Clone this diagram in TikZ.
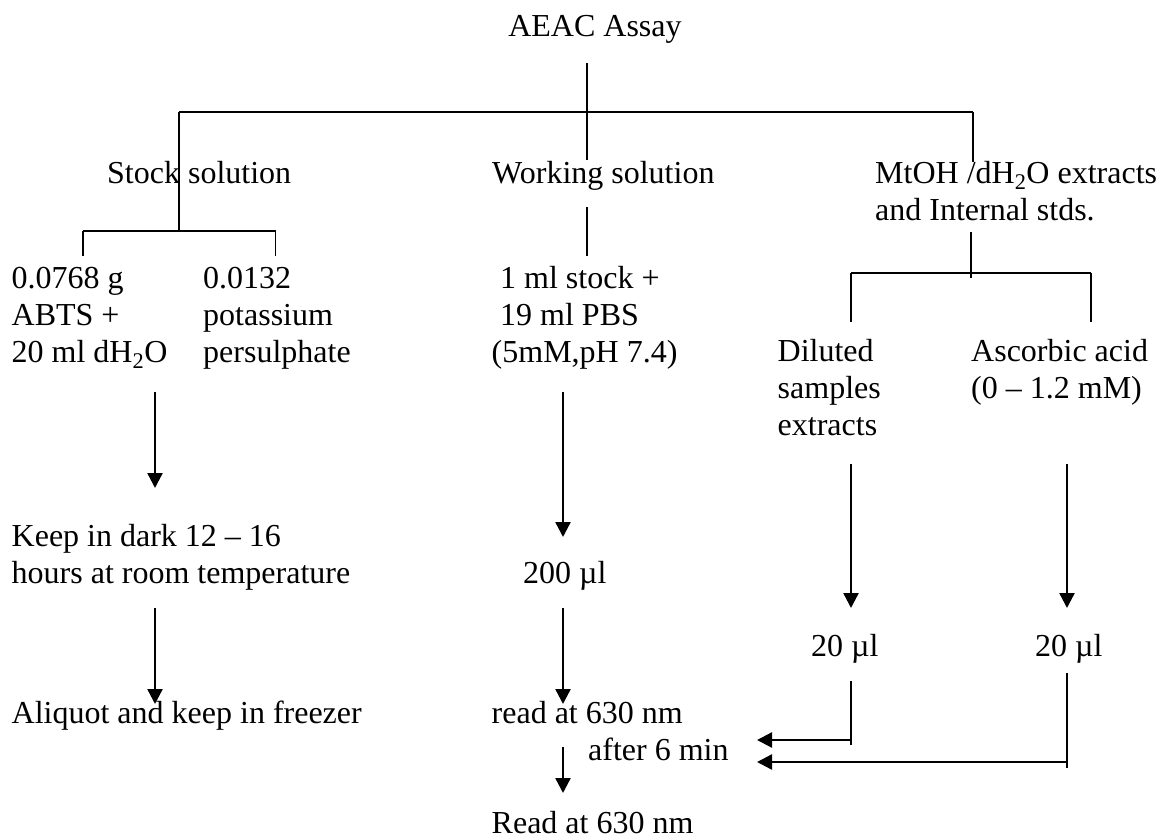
\documentclass[tikz,border=0pt]{standalone}
\usepackage{fontspec}
\setmainfont{Liberation Serif}
\usetikzlibrary{arrows.meta}
\begin{document}
\begin{tikzpicture}[x=1pt,y=-1pt,
  lbl/.style={anchor=base west,inner sep=0pt,align=left,font=\fontsize{32}{36.8}\selectfont},
  link/.style={line width=1.6pt},
  bar/.style={line width=2.6pt},
  flow/.style={line width=2.4pt,-{Triangle[length=15pt,width=15pt]}}]
\useasboundingbox[fill=white] (0,0) rectangle (1160,838);

% ---- text blocks (multi-line nodes are placed by the baseline of their last line) ----
\node[lbl,anchor=base] (title) at (595,36) {AEAC Assay};
\node[lbl] (stock) at (107,183) {Stock solution};
\node[lbl] (work) at (492,183) {Working solution};
\node[lbl] (extr) at (875,220) {MtOH /dH\textsubscript{2}O extracts\\and Internal stds.};
\node[lbl] (abts) at (11.5,362) {0.0768 g\\ABTS +\\20 ml dH\textsubscript{2}O};
\node[lbl] (pers) at (203,362) {0.0132\\potassium\\persulphate};
\node[lbl] (mix) at (491.5,362) {\hspace{8.5pt}1 ml stock +\\\hspace{8.5pt}19 ml PBS\\(5mM,pH 7.4)};
\node[lbl] (dil) at (777.5,435) {Diluted\\samples\\extracts};
\node[lbl] (asc) at (971,398) {Ascorbic acid\\(0 -- 1.2 mM)};
\node[lbl] (dark) at (11.5,583) {Keep in dark 12 -- 16\\hours at room temperature};
\node[lbl] (twoh) at (523,583) {200 µl};
\node[lbl] (dilv) at (811,656) {20 µl};
\node[lbl] (ascv) at (1035,656) {20 µl};
\node[lbl] (frz) at (11.5,723) {Aliquot and keep in freezer};
\node[lbl] (read) at (491.5,760) {read at 630 nm\\\hspace{96.5pt}after 6 min};
\node[lbl] (final) at (491.5,833) {Read at 630 nm};

% ---- junction points ----
\coordinate (t0) at (587,63);
\coordinate (t1) at (587,160);
\coordinate (w0) at (587,207);
\coordinate (w1) at (587,256);
\coordinate (bl) at (179,112);
\coordinate (br) at (973,112);
\coordinate (bre) at (973,162);
\coordinate (s1) at (179,231);
\coordinate (sl) at (83,231);
\coordinate (sr) at (275.5,231);
\coordinate (sle) at (83,256);
\coordinate (sre) at (275.5,256);
\coordinate (e0) at (971,232);
\coordinate (e1) at (971,278);
\coordinate (el) at (851,273);
\coordinate (er) at (1091,273);
\coordinate (ele) at (851,322);
\coordinate (ere) at (1091,322);

% arrow ends
\coordinate (a1s) at (155,392);  \coordinate (a1e) at (155,488);
\coordinate (a2s) at (155,608);  \coordinate (a2e) at (155,704);
\coordinate (m1s) at (563,392);  \coordinate (m1e) at (563,537);
\coordinate (m2s) at (563,608);  \coordinate (m2e) at (563,704);
\coordinate (m3s) at (563,747);  \coordinate (m3e) at (563,793);
\coordinate (d1s) at (851,464);  \coordinate (d1e) at (851,608);
\coordinate (c1s) at (1067,464); \coordinate (c1e) at (1067,608);
\coordinate (d2s) at (851,681);  \coordinate (d2e) at (851,745);
\coordinate (d2k) at (851,740);  \coordinate (d2t) at (757,740);
\coordinate (c2s) at (1067,673); \coordinate (c2e) at (1067,768);
\coordinate (c2k) at (1067,762); \coordinate (c2t) at (757,762);

% ---- tree connectors ----
\draw[link] (t0) -- (t1);
\draw[link] (w0) -- (w1);
\draw[bar] (bl) -- (br);
\draw[link] (bl) -- (s1);
\draw[link] (br) -- (bre);
\draw[link] (sl) -- (sr);
\draw[link] (sl) -- (sle);
\draw[link] (sr) -- (sre);
\draw[link] (e0) -- (e1);
\draw[link] (el) -- (er);
\draw[link] (el) -- (ele);
\draw[link] (er) -- (ere);

% ---- flow arrows ----
\draw[flow] (a1s) -- (a1e);
\draw[flow] (a2s) -- (a2e);
\draw[flow] (m1s) -- (m1e);
\draw[flow] (m2s) -- (m2e);
\draw[flow] (m3s) -- (m3e);
\draw[flow] (d1s) -- (d1e);
\draw[flow] (c1s) -- (c1e);
\draw[link] (d2s) -- (d2e);
\draw[flow] (d2k) -- (d2t);
\draw[link] (c2s) -- (c2e);
\draw[flow] (c2k) -- (c2t);
\end{tikzpicture}
\end{document}
